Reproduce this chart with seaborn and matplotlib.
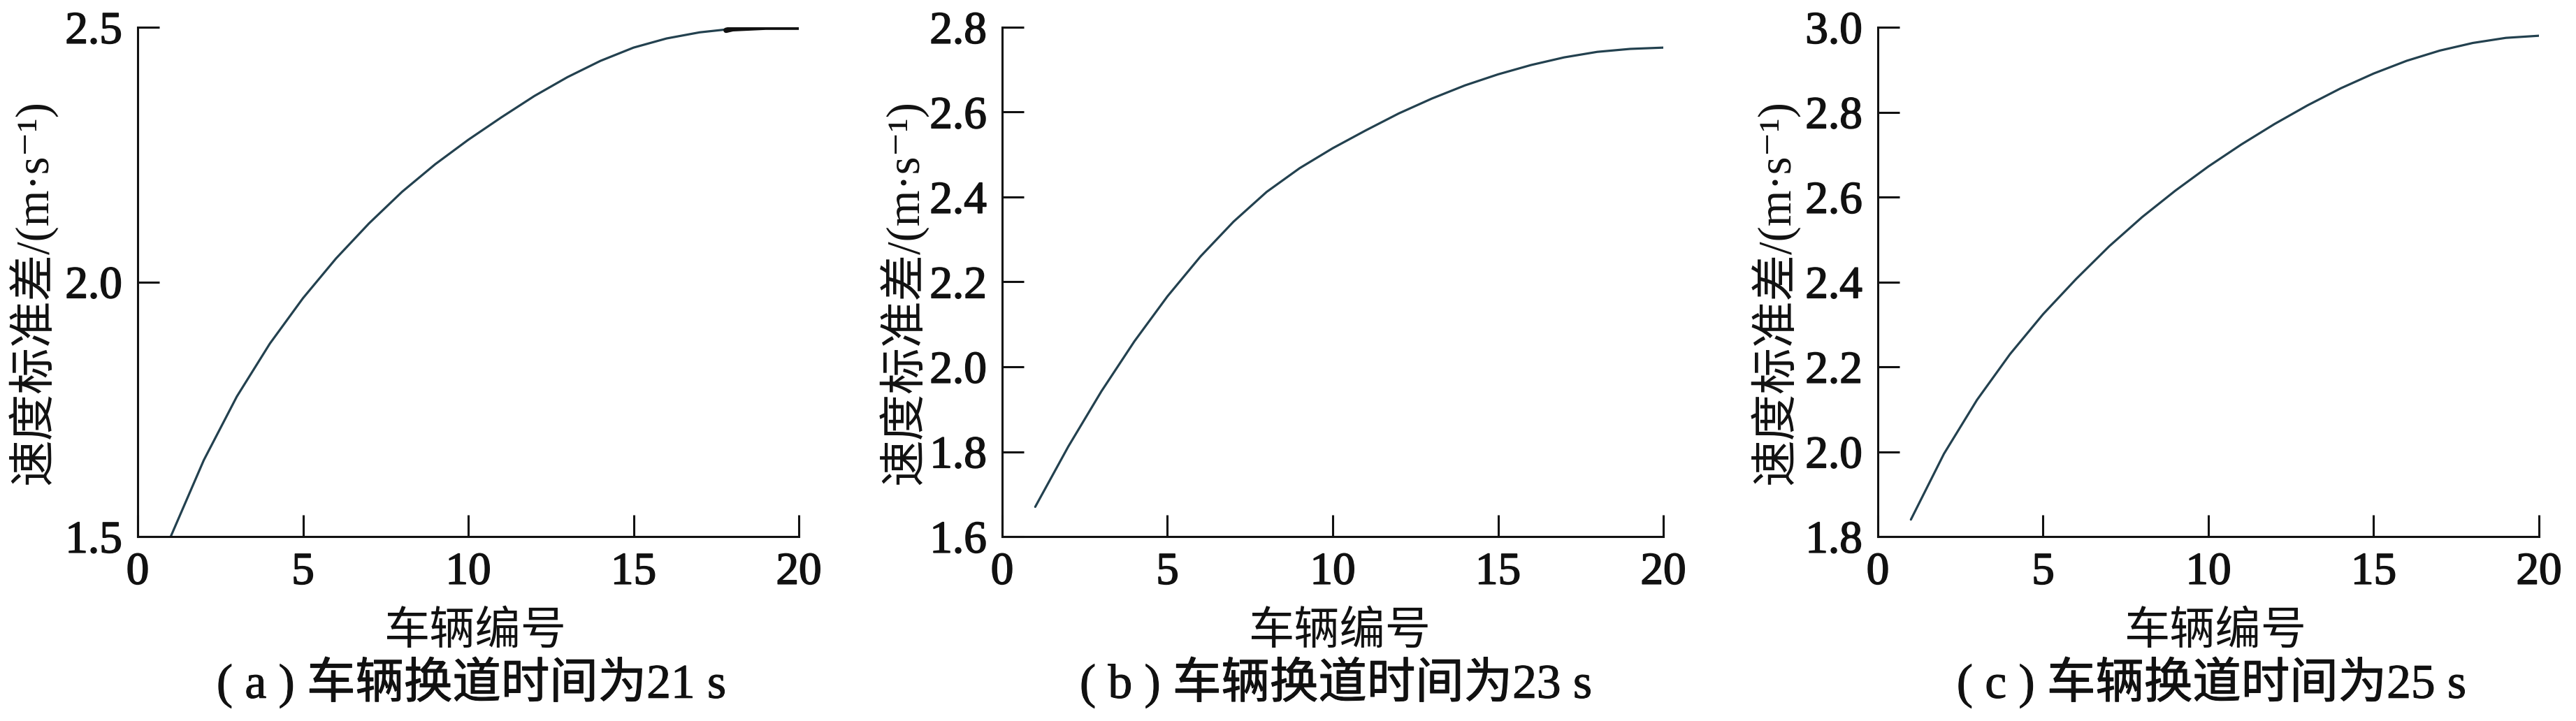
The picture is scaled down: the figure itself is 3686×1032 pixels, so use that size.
import numpy as np
import pandas as pd
import matplotlib
matplotlib.use("Agg")
import matplotlib.pyplot as plt
import matplotlib.patheffects as pe
import seaborn as sns

# vehicle index
vehicles = list(range(1, 21))

# speed standard deviation
std_21s = [1.500, 1.650, 1.775, 1.879, 1.968, 2.046, 2.115, 2.177, 2.231, 2.279,
           2.323, 2.365, 2.402, 2.434, 2.460, 2.478, 2.490, 2.497, 2.500, 2.500]
std_23s = [1.670, 1.812, 1.942, 2.060, 2.166, 2.260, 2.342, 2.412, 2.468, 2.515,
           2.557, 2.597, 2.632, 2.663, 2.689, 2.711, 2.729, 2.742, 2.749, 2.752]
std_25s = [1.840, 1.995, 2.122, 2.230, 2.324, 2.407, 2.484, 2.553, 2.615, 2.672,
           2.724, 2.772, 2.816, 2.856, 2.891, 2.921, 2.945, 2.963, 2.975, 2.980]

# saturated tail of panel (a), drawn darker/thicker in the original
tail_21s_x = [17.8, 18, 19, 20]
tail_21s_y = [2.494, 2.497, 2.500, 2.500]

captions = ["( a ) 车辆换道时间为21 s", "( b ) 车辆换道时间为23 s", "( c ) 车辆换道时间为25 s"]
y_limits = [(1.5, 2.5), (1.6, 2.8), (1.8, 3.0)]
y_ticks = [[1.5, 2.0, 2.5],
           [1.6, 1.8, 2.0, 2.2, 2.4, 2.6, 2.8],
           [1.8, 2.0, 2.2, 2.4, 2.6, 2.8, 3.0]]
x_ticks = [0, 5, 10, 15, 20]

sns.set_style("ticks")
plt.rcParams["font.family"] = ["Liberation Serif", "Noto Sans CJK SC", "DejaVu Sans"]
cjk = ["Noto Sans CJK SC", "Liberation Serif", "DejaVu Sans"]
mixed = ["Liberation Serif", "Noto Sans CJK SC", "DejaVu Sans"]
ink = "#111111"
heavy = [pe.withStroke(linewidth=1.2, foreground=ink)]

fig = plt.figure(figsize=(36.87, 10.32), dpi=100)
W, H = 3687, 1032
lefts = [197, 1434, 2687]
ylabel_x = [47, 1293, 2540]
series = [std_21s, std_23s, std_25s]

for i, left in enumerate(lefts):
    ax = fig.add_axes([left / W, (H - 768) / H, 946 / W, 729 / H])
    df = pd.DataFrame({"vehicle": vehicles, "std": series[i]})
    sns.lineplot(data=df, x="vehicle", y="std", ax=ax, color="#23414f", lw=2.3)
    if i == 0:
        sns.lineplot(x=tail_21s_x, y=tail_21s_y, ax=ax, color=ink, lw=5.5)

    ax.set_xlim(0, 20)
    ax.set_ylim(*y_limits[i])
    ax.set_xticks(x_ticks)
    ax.set_yticks(y_ticks[i])
    ax.set_yticklabels([f"{v:.1f}" for v in y_ticks[i]])
    sns.despine(ax=ax)
    for s in ["left", "bottom"]:
        ax.spines[s].set_linewidth(2.2)
        ax.spines[s].set_color(ink)
    ax.tick_params(direction="in", length=22, width=2.2, pad=16,
                   labelsize=47, colors=ink)
    for lab in ax.get_xticklabels() + ax.get_yticklabels():
        lab.set_family("Liberation Serif")
        lab.set_path_effects(heavy)

    ax.set_xlabel("车辆编号", family=cjk, fontsize=47, color=ink, weight="medium")
    ax.xaxis.label.set_verticalalignment("center")
    ax.xaxis.set_label_coords(0.51, -(904 - 768) / 729)
    ax.set_ylabel("速度标准差/(m·s⁻¹)", family=mixed, fontsize=48, color=ink,
                  weight="medium")
    ax.yaxis.label.set_verticalalignment("center")
    ax.yaxis.set_label_coords(-(left - ylabel_x[i]) / 946, 0.48)

    cap = ax.text(0.505, -(977 - 768) / 729, captions[i], transform=ax.transAxes,
                  ha="center", va="center", family=mixed, fontsize=50, color=ink)
    cap.set_path_effects([pe.withStroke(linewidth=0.8, foreground=ink)])

fig.savefig("out.png", dpi=100)
